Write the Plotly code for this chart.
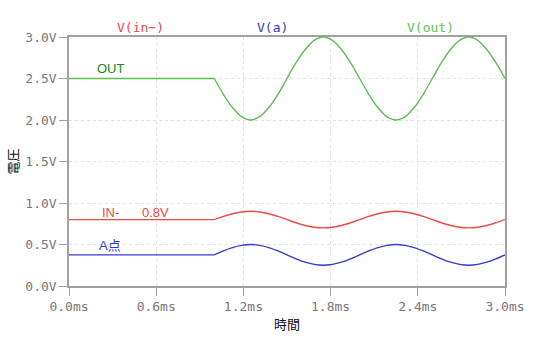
import plotly.graph_objects as go

# time points (ms)
t = [0.0, 1.0, 1.0625, 1.125, 1.1875, 1.25, 1.3125, 1.375, 1.4375, 1.5,
     1.5625, 1.625, 1.6875, 1.75, 1.8125, 1.875, 1.9375, 2.0,
     2.0625, 2.125, 2.1875, 2.25, 2.3125, 2.375, 2.4375, 2.5,
     2.5625, 2.625, 2.6875, 2.75, 2.8125, 2.875, 2.9375, 3.0]

v_out = [2.5, 2.5, 2.31, 2.15, 2.04, 2.0, 2.04, 2.15, 2.31, 2.5,
         2.69, 2.85, 2.96, 3.0, 2.96, 2.85, 2.69, 2.5,
         2.31, 2.15, 2.04, 2.0, 2.04, 2.15, 2.31, 2.5,
         2.69, 2.85, 2.96, 3.0, 2.96, 2.85, 2.69, 2.5]

v_in = [0.8, 0.8, 0.838, 0.871, 0.892, 0.9, 0.892, 0.871, 0.838, 0.8,
        0.762, 0.729, 0.708, 0.7, 0.708, 0.729, 0.762, 0.8,
        0.838, 0.871, 0.892, 0.9, 0.892, 0.871, 0.838, 0.8,
        0.762, 0.729, 0.708, 0.7, 0.708, 0.729, 0.762, 0.8]

v_a = [0.375, 0.375, 0.423, 0.463, 0.49, 0.5, 0.49, 0.463, 0.423, 0.375,
       0.327, 0.287, 0.26, 0.25, 0.26, 0.287, 0.327, 0.375,
       0.423, 0.463, 0.49, 0.5, 0.49, 0.463, 0.423, 0.375,
       0.327, 0.287, 0.26, 0.25, 0.26, 0.287, 0.327, 0.375]

x_ticks = [0.0, 0.6, 1.2, 1.8, 2.4, 3.0]
y_ticks = [0.0, 0.5, 1.0, 1.5, 2.0, 2.5, 3.0]

c_red = "#e84a45"
c_blue = "#3838cc"
c_green = "#5cbf50"

fig = go.Figure()
for vals, col in [(v_out, c_green), (v_in, c_red), (v_a, c_blue)]:
    # flat section (first two samples) drawn straight, wave section smoothed
    fig.add_trace(go.Scatter(x=t[:2], y=vals[:2], mode="lines",
                             line=dict(color=col, width=1.4), showlegend=False))
    fig.add_trace(go.Scatter(x=t[1:], y=vals[1:], mode="lines",
                             line=dict(color=col, width=1.4, shape="spline", smoothing=0.8),
                             showlegend=False))

mono = "DejaVu Sans Mono, monospace"
sans = "Liberation Sans, Noto Sans CJK JP, sans-serif"
cjk = "Noto Sans CJK JP, sans-serif"

axis_common = dict(
    showline=True, linecolor="#a0a0a0", linewidth=1.5, mirror=True,
    ticks="outside", ticklen=8, tickcolor="#a0a0a0", tickwidth=1.2,
    showgrid=True, gridcolor="#e2e2e2", griddash="dot", gridwidth=1,
    zeroline=False, tickfont=dict(family=mono, size=13, color="#777777"),
)

fig.update_xaxes(range=[0, 3.0], tickvals=x_ticks, ticktext=[f"{v:.1f}ms" for v in x_ticks],
                 title=dict(text="時間", font=dict(family=cjk, size=13, color="#111111"), standoff=7),
                 **axis_common)
fig.update_yaxes(range=[0, 3.0], tickvals=y_ticks, ticktext=[f"{v:.1f}V" for v in y_ticks],
                 title=dict(text="電圧", font=dict(family=cjk, size=13, color="#111111"), standoff=4),
                 **axis_common)

# top trace labels
for txt, xp, col in [("V(in−)", 137, c_red), ("V(a)", 270, c_blue), ("V(out)", 430, c_green)]:
    fig.add_annotation(x=(xp - 65) / 440 * 3.0, y=1, xref="x", yref="paper", text=txt,
                       showarrow=False, yanchor="bottom", yshift=0,
                       font=dict(family=mono, size=13, color=col))

# in-plot labels
fig.add_annotation(x=0.18, y=2.62, text="OUT", showarrow=False, xanchor="left",
                   font=dict(family=sans, size=13, color="#1e8a1e"))
fig.add_annotation(x=0.215, y=0.88, text="IN-", showarrow=False, xanchor="left",
                   font=dict(family=sans, size=13, color=c_red))
fig.add_annotation(x=0.49, y=0.88, text="0.8V", showarrow=False, xanchor="left",
                   font=dict(family=sans, size=13, color=c_red))
fig.add_annotation(x=0.19, y=0.49, text="A点", showarrow=False, xanchor="left",
                   font=dict(family=sans, size=13, color=c_blue))

fig.update_layout(width=550, height=350, margin=dict(l=65, r=45, t=37, b=64),
                  plot_bgcolor="white", paper_bgcolor="white")

fig.write_html("out.html")
